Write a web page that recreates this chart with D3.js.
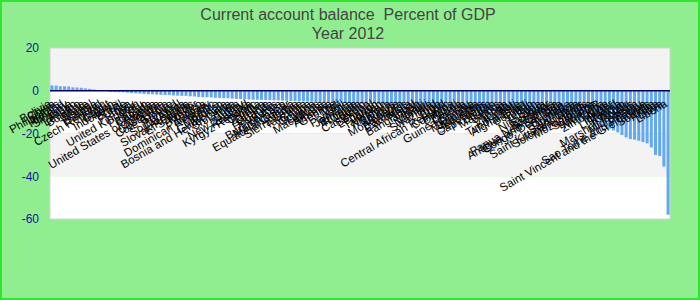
<!DOCTYPE html>
<html>
<head>
<meta charset="utf-8">
<script src="https://cdn.jsdelivr.net/npm/d3@7"></script>
<style>
  body { margin: 0; }
  svg { display: block; font-family: "Liberation Sans", Arial, sans-serif; }
</style>
</head>
<body>
<svg id="chart"></svg>
<script>
var countries = [
  "Bolivia", "China", "Philippines", "Ireland", "Hungary", "Slovenia", "Japan", "Lesotho",
  "Bulgaria", "Malta", "Israel", "Estonia", "Thailand", "Czech Republic", "Egypt", "Gabon",
  "Indonesia", "Brazil", "Chile", "France", "Italy", "United Kingdom", "Peru", "Pakistan",
  "Canada", "Algeria", "United States of America", "Colombia", "Costa Rica", "Cote d'Ivoire", "Poland", "Portugal",
  "South Africa", "Australia", "Slovak Republic", "El Salvador", "Mexico", "Tunisia", "Paraguay", "Dominican Republic",
  "Belize", "Morocco", "Guatemala", "Bosnia and Herzegovina", "Sri Lanka", "India", "Turkey", "New Zealand",
  "Romania", "Kyrgyz Republic", "Croatia", "Zambia", "Greece", "Uganda", "Honduras", "Kenya",
  "Burkina Faso", "Madagascar", "Equatorial Guinea", "Serbia", "Sierra Leone", "Tanzania", "Ghana", "Guyana",
  "Cyprus", "Macedonia", "Albania", "Armenia", "Georgia", "Mali", "Fiji", "Panama",
  "Jamaica", "Ethiopia", "Rwanda", "Benin", "Cameroon", "Senegal", "Lebanon", "Jordan",
  "Tajikistan", "Moldova", "Belarus", "Ukraine", "Montenegro", "Barbados", "Cambodia", "Nepal",
  "Bangladesh", "Haiti", "Malawi", "Namibia", "Swaziland", "Togo", "Chad", "Central African Republic",
  "Comoros", "Djibouti", "Eritrea", "Guinea", "Guinea-Bissau", "Gambia", "Mauritania", "Mauritius",
  "Seychelles", "Cape Verde", "Bhutan", "Maldives", "Samoa", "Tonga", "Vanuatu", "Kiribati",
  "Timor-Leste", "Afghanistan", "Burundi", "Sudan", "Yemen", "Syria", "Nicaragua", "Ecuador",
  "Bahamas", "Papua New Guinea", "Antigua and Barbuda", "Congo, Dem. Rep.", "Grenada", "Dominica", "Saint Lucia", "Saint Kitts and Nevis",
  "Solomon Islands", "Mozambique", "Suriname", "Lao PDR", "Mongolia", "Zimbabwe", "Niger", "Iceland",
  "Lithuania", "Kosovo", "Tuvalu", "Marshall Islands", "Micronesia", "Palau", "Sao Tome and Principe", "Saint Vincent and the Grenadines",
  "Somalia", "Aruba", "Libya", "Liberia"
]

var balance = [
  2.5, 2.4, 2.1, 2.1, 2.0, 1.6, 1.5, 1.4, 1.1, 0.9, 0.6, 0.3,
  0.0, -0.1,
  -0.5, -0.6, -0.7, -0.7, -0.9, -1.1, -1.2, -1.3, -1.5, -1.6,
  -1.6, -1.8, -1.9, -2.0, -2.0, -2.2, -2.3, -2.4, -2.4, -2.6, -2.7, -2.9, -3.0,
  -3.0, -3.1, -3.3, -3.4, -3.5, -3.5, -3.7, -3.8, -3.9, -4.0, -4.1, -4.2,
  -4.2, -4.3, -4.3, -4.4, -4.5, -4.5, -4.6, -4.7, -4.8, -4.8, -4.9, -5.0,
  -5.0, -5.1, -5.2, -5.3, -5.3, -5.4, -5.5, -5.6, -5.6, -5.7, -5.8, -5.9,
  -6.0, -6.0, -6.1, -6.2, -6.3, -6.4, -6.5, -6.5, -6.6, -6.7, -6.8, -6.9,
  -7.0, -7.1, -7.2, -7.3, -7.4, -7.5, -7.6, -7.7, -7.8, -8.0, -8.1, -8.2,
  -8.3, -8.5, -8.6, -8.7, -8.9, -9.0, -9.1, -9.3, -9.4, -9.5, -9.7, -9.8,
  -10.0, -10.1, -10.3, -10.5, -10.6, -10.8, -11.0, -11.2, -11.4, -11.6, -11.8, -12.0,
  -12.3, -12.6, -12.9, -13.2, -13.5, -13.9, -14.3, -14.7, -15.2, -15.7, -16.3, -17.0,
  -17.8, -18.6, -19.5,
  -20.7, -21.8, -22.6, -22.9, -23.4, -24.0, -24.6, -26.5, -30.0, -30.5, -35.5, -58.0
]

var yTicks = [20, 0, -20, -40, -60]
var titleLines = ["Current account balance  Percent of GDP", "Year 2012"]

var dataset = countries.map((c, i) => ({ country: c, value: balance[i] }))

var dimensions = {
    width: 700,
    height: 300,
    margin: {
        top: 48,
        bottom: 81,
        right: 30,
        left: 50
    }
}

var svg = d3.select("#chart")
            .attr("width", dimensions.width)
            .attr("height", dimensions.height)

// background with green frame
svg.append("rect")
   .attr("x", 1).attr("y", 1)
   .attr("width", dimensions.width - 2)
   .attr("height", dimensions.height - 2)
   .attr("fill", "#90ee90")
   .attr("stroke", "#2ee62e")
   .attr("stroke-width", 2)

var xScale = d3.scaleBand()
               .domain(countries)
               .range([dimensions.margin.left, dimensions.width - dimensions.margin.right])
               .paddingInner(0.28)
               .paddingOuter(0.1)

var yScale = d3.scaleLinear()
               .domain([-60, 20])
               .range([dimensions.height - dimensions.margin.bottom, dimensions.margin.top])

var plotW = dimensions.width - dimensions.margin.right - dimensions.margin.left

// alternating bands between the ticks
var bands = d3.pairs(yTicks)
svg.append("g")
   .selectAll("rect")
   .data(bands)
   .enter()
   .append("rect")
   .attr("x", dimensions.margin.left)
   .attr("y", d => yScale(d[0]))
   .attr("width", plotW)
   .attr("height", d => yScale(d[1]) - yScale(d[0]))
   .attr("fill", (d, i) => i % 2 == 0 ? "#f3f3f3" : "#ffffff")

svg.append("rect")
   .attr("x", dimensions.margin.left)
   .attr("y", yScale(20))
   .attr("width", plotW)
   .attr("height", yScale(-60) - yScale(20))
   .attr("fill", "none")
   .attr("stroke", "#d4d4d4")

svg.append("g")
   .selectAll("rect")
   .data(dataset)
   .enter()
   .append("rect")
   .attr("x", d => xScale(d.country))
   .attr("y", d => yScale(Math.max(0, d.value)))
   .attr("width", xScale.bandwidth())
   .attr("height", d => Math.abs(yScale(d.value) - yScale(0)))
   .attr("fill", "#63a9f2")

// zero line
svg.append("line")
   .attr("x1", dimensions.margin.left)
   .attr("x2", dimensions.width - dimensions.margin.right)
   .attr("y1", yScale(0))
   .attr("y2", yScale(0))
   .attr("stroke", "#000060")
   .attr("stroke-width", 1.5)

// category labels, slanted
svg.append("g")
   .selectAll("text")
   .data(dataset)
   .enter()
   .append("text")
   .attr("transform", d => `translate(${xScale(d.country) + xScale.bandwidth() / 2}, 106) rotate(-30)`)
   .attr("text-anchor", "end")
   .attr("font-size", 11.5)
   .attr("fill", "#000")
   .text(d => d.country)

var yAxisGen = d3.axisLeft().scale(yScale).tickValues(yTicks).tickSize(0).tickPadding(11)
var yAxis = svg.append("g")
               .call(yAxisGen)
               .attr("transform", `translate(${dimensions.margin.left}, 0)`)
yAxis.select(".domain").remove()
yAxis.selectAll("text")
     .attr("font-size", 12)
     .attr("font-family", "Liberation Sans, Arial, sans-serif")
     .attr("fill", "#14149a")
     .text(d => d)

svg.append("g")
   .selectAll("text")
   .data(titleLines)
   .enter()
   .append("text")
   .attr("x", 348)
   .attr("y", (d, i) => 20 + i * 19)
   .attr("text-anchor", "middle")
   .attr("font-size", 16)
   .attr("fill", "#444")
   .style("white-space", "pre")
   .text(d => d)
</script>
</body>
</html>
